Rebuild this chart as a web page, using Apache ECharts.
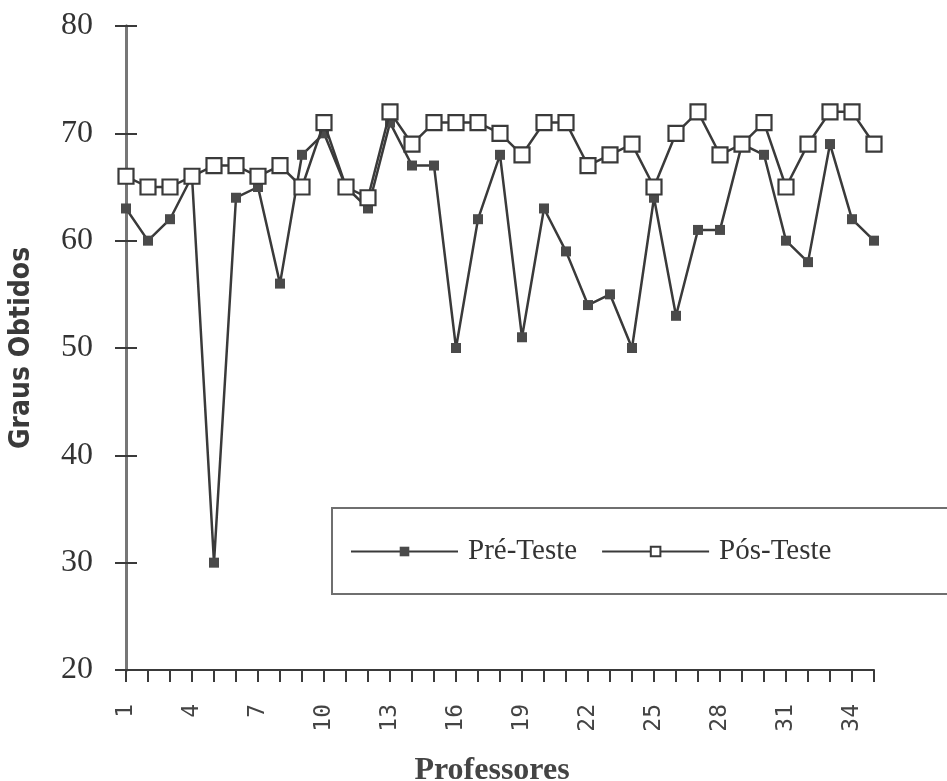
<!DOCTYPE html>
<html>
<head>
<meta charset="utf-8">
<script src="https://cdn.jsdelivr.net/npm/echarts@6/dist/echarts.min.js"></script>
<style>
  html, body { margin: 0; padding: 0; background: #fff; }
  #chart { width: 947px; height: 781px; }
</style>
</head>
<body>
<div id="chart"></div>
<script>
// Professores 1..35
const categories = [
  '1','2','3','4','5','6','7','8','9','10',
  '11','12','13','14','15','16','17','18','19','20',
  '21','22','23','24','25','26','27','28','29','30',
  '31','32','33','34','35'
];

// Graus obtidos antes da formação
const preTeste = [
  63, 60, 62, 66, 30, 64, 65, 56, 68, 70,
  65, 63, 71, 67, 67, 50, 62, 68, 51, 63,
  59, 54, 55, 50, 64, 53, 61, 61, 69, 68,
  60, 58, 69, 62, 60
];

// Graus obtidos depois da formação
const posTeste = [
  66, 65, 65, 66, 67, 67, 66, 67, 65, 71,
  65, 64, 72, 69, 71, 71, 71, 70, 68, 71,
  71, 67, 68, 69, 65, 70, 72, 68, 69, 71,
  65, 69, 72, 72, 69
];

const yMin = 20, yMax = 80, yStep = 10;

const ink = '#3a3a3a';
const serif = '"Liberation Serif", "Times New Roman", serif';

const gridBox = { left: 126, right: 73, top: 26, bottom: 111, containLabel: false, outerBoundsMode: 'none' };

const chart = echarts.init(document.getElementById('chart'), null, { renderer: 'canvas' });

chart.setOption({
  animation: false,
  backgroundColor: '#ffffff',
  // two identical grids: the second one carries the inward half of the y ticks
  grid: [Object.assign({}, gridBox), Object.assign({}, gridBox)],
  legend: {
    left: 332,
    top: 508,
    width: 600,
    orient: 'horizontal',
    data: ['Pré-Teste', 'Pós-Teste'],
    padding: [29, 160, 28, 18],
    borderColor: '#6f6f6f',
    borderWidth: 2,
    itemWidth: 107,
    itemHeight: 12,
    itemGap: 24,
    textStyle: { fontFamily: serif, fontSize: 29, color: '#333', padding: [0, 0, 0, 5] }
  },
  xAxis: [
    {
      type: 'category',
      gridIndex: 0,
      data: categories,
      boundaryGap: false,
      name: 'Professores',
      nameLocation: 'middle',
      nameGap: 85,
      nameTextStyle: { fontFamily: serif, fontSize: 32, fontWeight: 'bold', color: '#444', padding: [0, 16, 0, 0] },
      axisLine: { show: true, lineStyle: { color: ink, width: 2 } },
      axisTick: { show: true, interval: 0, length: 12, lineStyle: { color: ink, width: 2 } },
      axisLabel: {
        interval: 2,
        rotate: 90,
        margin: 34,
        fontFamily: '"DejaVu Sans Mono", monospace',
        fontSize: 23,
        color: '#444'
      },
      splitLine: { show: false }
    },
    {
      type: 'category',
      gridIndex: 1,
      data: categories,
      boundaryGap: false,
      axisLine: { show: false },
      axisTick: { show: false },
      axisLabel: { show: false },
      splitLine: { show: false }
    }
  ],
  yAxis: [
    {
      type: 'value',
      gridIndex: 0,
      min: yMin,
      max: yMax,
      interval: yStep,
      name: 'Graus Obtidos',
      nameLocation: 'middle',
      nameGap: 90,
      nameRotate: 90,
      nameTextStyle: {
        fontFamily: '"DejaVu Sans Condensed", "DejaVu Sans", sans-serif',
        fontSize: 28,
        fontWeight: 'bold',
        color: '#3a3a3a'
      },
      axisLine: { show: true, lineStyle: { color: '#777', width: 3 } },
      axisTick: { show: true, length: 11, lineStyle: { color: ink, width: 2 } },
      axisLabel: { margin: 33, fontFamily: serif, fontSize: 32, color: '#333' },
      splitLine: { show: false }
    },
    {
      type: 'value',
      gridIndex: 1,
      min: yMin,
      max: yMax,
      interval: yStep,
      axisLine: { show: true, lineStyle: { color: '#777', width: 3 } },
      axisTick: { show: true, inside: true, length: 11, lineStyle: { color: ink, width: 2 } },
      axisLabel: { show: true, inside: true, color: 'rgba(0,0,0,0)', fontSize: 10 },
      splitLine: { show: false }
    }
  ],
  series: [
    {
      name: 'Pré-Teste',
      type: 'line',
      xAxisIndex: 0,
      yAxisIndex: 0,
      data: preTeste,
      z: 2,
      symbol: 'rect',
      symbolSize: 10,
      showAllSymbol: true,
      lineStyle: { color: ink, width: 2.5 },
      itemStyle: { color: '#4a4a4a', borderWidth: 0 }
    },
    {
      name: 'Pós-Teste',
      type: 'line',
      xAxisIndex: 1,
      yAxisIndex: 1,
      data: posTeste,
      z: 3,
      symbol: 'rect',
      symbolSize: 15,
      showAllSymbol: true,
      lineStyle: { color: ink, width: 2.5 },
      itemStyle: { color: '#ffffff', borderColor: ink, borderWidth: 2.2 }
    }
  ]
});
</script>
</body>
</html>
